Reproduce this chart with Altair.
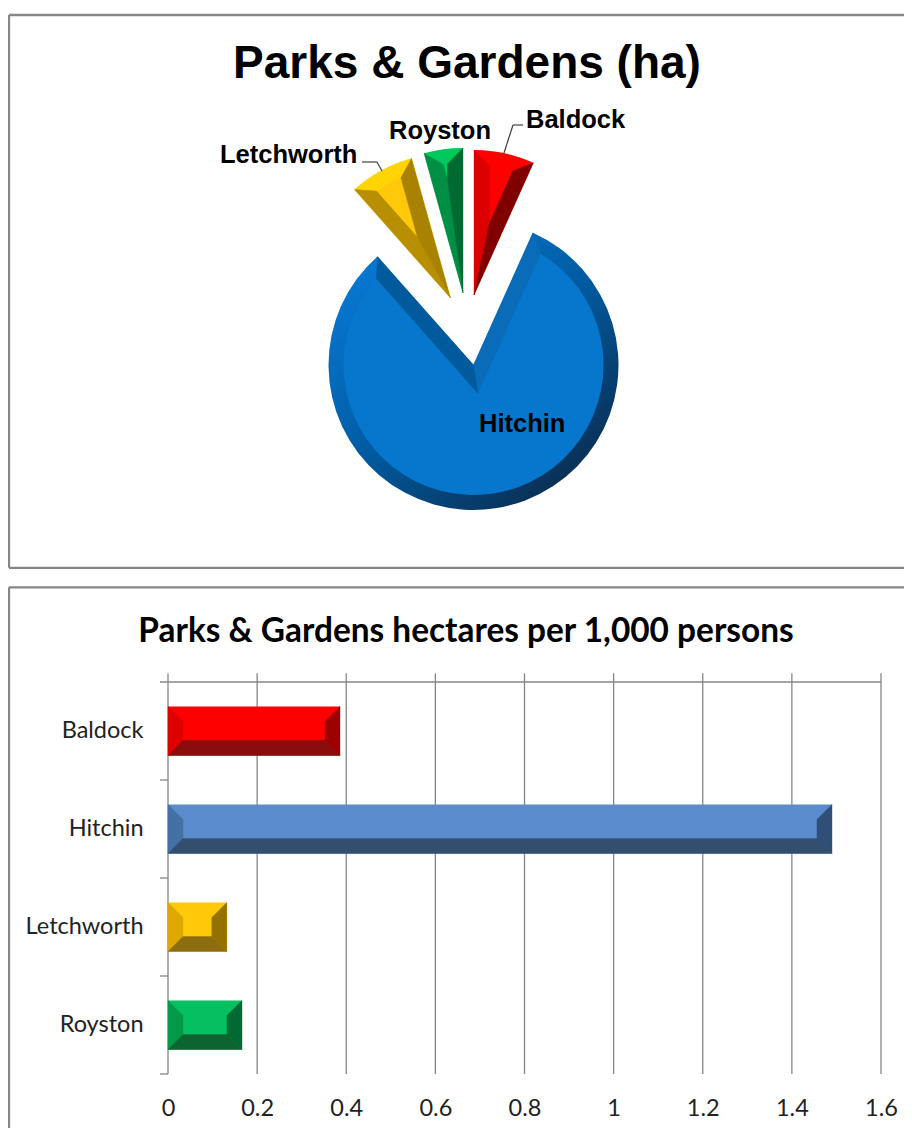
import math
import altair as alt
import pandas as pd

# ---------- data ----------
towns = ["Baldock", "Hitchin", "Letchworth", "Royston"]
hectares_share = [6.72, 81.75, 7.2, 4.33]
per_1000 = [0.386, 1.49, 0.132, 0.166]
x_ticks = [0, 0.2, 0.4, 0.6, 0.8, 1, 1.2, 1.4, 1.6]

# pie styling
explode_x = [0.5, 0, -23, -10.5]
explode_y = [-70, 0, -67, -72]
rim_col = ["#ff0000", "#0677cc", "#ffd400", "#00c85a"]
face_col = ["#ff0000", "#0677cc", "#ffc80a", "#00c85a"]
left_col = ["#dc0000", "#0a6cb8", "#b88f00", "#008f45"]
right_col = ["#800000", "#005a9c", "#a88200", "#006a33"]
# bar styling
bar_face = ["#ff0000", "#5a8bcc", "#ffc90a", "#05c060"]
bar_left = ["#dc0000", "#4470a4", "#dda800", "#009a48"]
bar_right = ["#9c0000", "#2f4f76", "#947200", "#006a32"]
bar_bottom = ["#8a0c0c", "#344e70", "#8c6e10", "#0c6430"]

W = 896
H1 = 572
H2 = 548
CX, CY = 465.5, 357.0
R, RF, BEV = 145.0, 130.0, 15.5
FRAME = "#868686"
SANS = "Liberation Sans"
BODY = "Lato"


def pt(cx, cy, r, deg):
    a = math.radians(deg)
    return cx + r * math.sin(a), cy - r * math.cos(a)


total = sum(hectares_share)
base_rows, face_rows, poly_rows = [], [], []
cum = 0.0
for i, t in enumerate(towns):
    v0, v1 = cum, cum + hectares_share[i]
    cum = v1
    a0, a1 = v0 * 360 / total, v1 * 360 / total
    ax, ay = CX + explode_x[i], CY + explode_y[i]
    half = (a1 - a0) / 2
    d = math.degrees(math.asin(BEV / RF))
    dv = d * total / 360
    base_rows.append(dict(town=t, start=v0, end=v1, cx=ax, cy=ay, color=rim_col[i]))
    face_rows.append(dict(town=t, start=v0 + dv, end=v1 - dv, cx=ax, cy=ay, color=face_col[i]))
    F = pt(ax, ay, BEV / math.sin(math.radians(half)), a0 + half)
    shapes = [
        ("L", left_col[i], [(ax, ay), pt(ax, ay, R, a0), pt(ax, ay, RF, a0 + d), F]),
        ("R", right_col[i], [(ax, ay), pt(ax, ay, R, a1), pt(ax, ay, RF, a1 - d), F]),
    ]
    for side, col, pts in shapes:
        for k, (px, py) in enumerate(pts + pts[:1]):
            poly_rows.append(dict(poly=t + side, k=k, px=px, py=py, color=col))

base_df = pd.DataFrame(base_rows)
face_df = pd.DataFrame(face_rows)
poly_df = pd.DataFrame(poly_rows)

theta = alt.Theta("start:Q", stack=None,
                  scale=alt.Scale(domain=[0, total], range=[0, 2 * math.pi]))
theta2 = alt.Theta2("end:Q")
ax_ = alt.X("cx:Q", scale=None, axis=None)
ay_ = alt.Y("cy:Q", scale=None, axis=None)

small = base_df[base_df.town != "Hitchin"]
big = base_df[base_df.town == "Hitchin"]

rims = alt.Chart(small).mark_arc(outerRadius=R, innerRadius=0).encode(
    theta=theta, theta2=theta2, x=ax_, y=ay_, color=alt.Color("color:N", scale=None))
ring = alt.Chart(big).mark_arc(
    outerRadius=R, innerRadius=0,
    color=alt.LinearGradient(
        gradient="linear", x1=0.12, y1=0.1, x2=0.8, y2=0.92,
        stops=[alt.GradientStop(offset=0, color="#0878d4"),
               alt.GradientStop(offset=0.5, color="#005ca2"),
               alt.GradientStop(offset=1, color="#0a2f55")])
).encode(theta=theta, theta2=theta2, x=ax_, y=ay_)
faces = alt.Chart(face_df).mark_arc(outerRadius=RF, innerRadius=0).encode(
    theta=theta, theta2=theta2, x=ax_, y=ay_, color=alt.Color("color:N", scale=None))
polys = alt.Chart(poly_df).mark_line(strokeWidth=0.4, interpolate="linear").encode(
    x=alt.X("px:Q", scale=None, axis=None),
    y=alt.Y("py:Q", scale=None, axis=None),
    detail="poly:N",
    order="k:Q",
    fill=alt.Fill("color:N", scale=None),
    stroke=alt.Stroke("color:N", scale=None),
)

label_df = pd.DataFrame({
    "text": towns,
    "lx": [526 - 8, 479 - 8, 220 - 8, 389 - 8],
    "ly": [128 - 8, 432 - 8, 163 - 8, 139 - 8],
})
labels = alt.Chart(label_df).mark_text(
    align="left", baseline="alphabetic", font=SANS, fontWeight="bold", fontSize=25.5, color="#000000"
).encode(x=alt.X("lx:Q", scale=None, axis=None), y=alt.Y("ly:Q", scale=None, axis=None), text="text:N")

title1 = alt.Chart(pd.DataFrame({"t": ["Parks & Gardens (ha)"]})).mark_text(
    align="center", baseline="alphabetic", font=SANS, fontWeight="bold", fontSize=46, color="#000000"
).encode(x=alt.value(459), y=alt.value(70), text="t:N")


def seg(x1, y1, x2, y2, col=FRAME, w=2.3):
    return alt.Chart(pd.DataFrame({"a": [0]})).mark_rule(color=col, strokeWidth=w).encode(
        x=alt.value(x1), x2=alt.value(x2), y=alt.value(y1), y2=alt.value(y2))


leaders = [
    seg(496, 145, 505, 117, "#404040", 1.2), seg(505, 117, 515, 117, "#404040", 1.2),
    seg(354, 154, 369, 154, "#404040", 1.2), seg(369, 154, 374, 163, "#404040", 1.2),
]
frame1 = [seg(1, 7, W, 7), seg(1, 7, 1, 559.8), seg(1, 559.8, W, 559.8)]

top = alt.layer(*frame1, rims, ring, faces, polys, *leaders, labels, title1).properties(width=W, height=H1)

# ---------- bottom panel ----------
P2Y = 580
PX0, PX1 = 160, 873
PY0, PY1 = 682 - P2Y, 1074 - P2Y
xscale = alt.Scale(domain=[0, 1.6], range=[PX0, PX1], nice=False, zero=False)
rowscale = alt.Scale(domain=[0, 4], range=[PY0, PY1], nice=False, zero=False)

bx = 15 * 1.6 / (PX1 - PX0)
by = 15 / 98
bev_rows = []
for i, t in enumerate(towns):
    v = per_1000[i]
    t_y, b_y = i + 0.25, i + 0.75
    quads = [
        ("L", bar_left[i], [(0, t_y), (bx, t_y + by), (bx, b_y - by), (0, b_y)]),
        ("R", bar_right[i], [(v, t_y), (v - bx, t_y + by), (v - bx, b_y - by), (v, b_y)]),
        ("B", bar_bottom[i], [(0, b_y), (bx, b_y - by), (v - bx, b_y - by), (v, b_y)]),
    ]
    for side, col, pts in quads:
        for k, (xx, rr) in enumerate(pts + pts[:1]):
            bev_rows.append(dict(p=t + side, k=k, xv=xx, r=rr, color=col))
bev_df = pd.DataFrame(bev_rows)

bar_df = pd.DataFrame({"town": towns, "v": per_1000, "color": bar_face})
grid_df = pd.DataFrame({"x": x_ticks, "r1": [-0.09] * len(x_ticks), "r2": [4] * len(x_ticks)})
topline_df = pd.DataFrame({"x": [-0.018], "x2": [1.6], "r": [0]})
tick_df = pd.DataFrame({"x": [-0.018] * 4, "x2": [0] * 4, "r": [1, 2, 3, 4]})

x_axis = alt.Axis(values=x_ticks, format="~g", grid=False, domain=False, ticks=False,
                  labelFont=BODY, labelFontSize=23.5, labelColor="#222222", labelPadding=22,
                  labelFlush=False, labelOverlap=False, offset=-(H2 - PY1))
grid = alt.Chart(grid_df).mark_rule(color=FRAME, strokeWidth=1.3).encode(
    x=alt.X("x:Q", scale=xscale, axis=x_axis, title=None),
    y=alt.Y("r1:Q", scale=rowscale, axis=None),
    y2="r2:Q",
)
topline = alt.Chart(topline_df).mark_rule(color=FRAME, strokeWidth=1.3).encode(
    x=alt.X("x:Q", scale=xscale, axis=x_axis, title=None), x2="x2:Q",
    y=alt.Y("r:Q", scale=rowscale, axis=None),
)
rowticks = alt.Chart(tick_df).mark_rule(color=FRAME, strokeWidth=1.3).encode(
    x=alt.X("x:Q", scale=xscale, axis=x_axis, title=None), x2="x2:Q",
    y=alt.Y("r:Q", scale=rowscale, axis=None),
)
bars = alt.Chart(bar_df).mark_bar(strokeWidth=0).encode(
    x=alt.X("v:Q", scale=xscale, title=None, axis=x_axis),
    y=alt.Y("town:N", sort=towns, title=None,
            scale=alt.Scale(domain=towns, range=[PY0, PY1], paddingInner=0.5, paddingOuter=0.25),
            axis=alt.Axis(grid=False, domain=False, ticks=False,
                          labelFont=BODY, labelFontSize=23.5, labelColor="#222222", labelPadding=25,
                          offset=-PX0)),
    color=alt.Color("color:N", scale=None),
)
bevels = alt.Chart(bev_df).mark_line(strokeWidth=0.4, interpolate="linear").encode(
    x=alt.X("xv:Q", scale=xscale, axis=x_axis, title=None),
    y=alt.Y("r:Q", scale=rowscale, axis=None),
    detail="p:N",
    order="k:Q",
    fill=alt.Fill("color:N", scale=None),
    stroke=alt.Stroke("color:N", scale=None),
)
title2 = alt.Chart(pd.DataFrame({"t": ["Parks & Gardens hectares per 1,000 persons"]})).mark_text(
    align="center", baseline="alphabetic", font=BODY, fontWeight="bold", fontSize=33.4, color="#000000"
).encode(x=alt.value(458), y=alt.value(642 - P2Y), text="t:N")
frame2 = [seg(1, 7.3, W, 7.3), seg(1, 7.3, 1, H2)]

bottom = alt.layer(*frame2, grid, topline, rowticks, bars, bevels, title2).resolve_scale(
    y="independent", x="shared").properties(width=W, height=H2)

chart = alt.vconcat(top, bottom, spacing=0, bounds="flush").properties(
    padding={"top": 0, "left": -1, "right": -2, "bottom": 0},
    background="white").configure_view(strokeWidth=0)
chart.save("out.html", embed_options={"renderer": "svg", "actions": False})
